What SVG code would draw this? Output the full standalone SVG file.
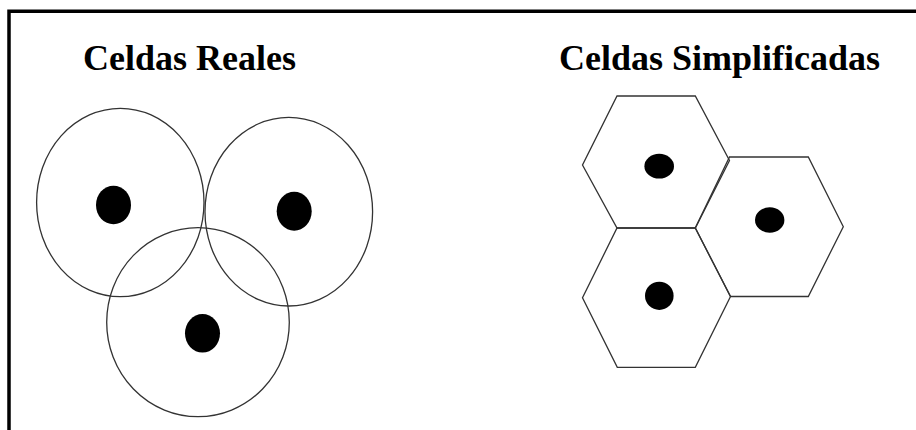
<svg xmlns="http://www.w3.org/2000/svg" width="916" height="430" viewBox="0 0 916 430">
  <style>
    .title { font-family: "Liberation Serif", "Times New Roman", serif; font-weight: bold; font-size: 36px; fill: #000; }
    .cell { fill: none; stroke: #333; stroke-width: 1.3; }
    .nucleus { fill: #000; }
    .frame { fill: none; stroke: #000; stroke-width: 3.5; }
  </style>
  <rect width="916" height="430" fill="#fff"/>
  <path class="frame" d="M 9 432 V 11.3 H 918"/>

  <g id="title-real">
    <text class="title" x="83" y="70">Celdas Reales</text>
  </g>
  <g id="title-simplified">
    <text class="title" x="559" y="70">Celdas Simplificadas</text>
  </g>

  <g id="real-cell-1">
    <ellipse class="cell" cx="120.3" cy="202.5" rx="83.7" ry="94.2"/>
    <ellipse class="nucleus" cx="113.5" cy="205" rx="17.5" ry="19.3"/>
  </g>
  <g id="real-cell-2">
    <ellipse class="cell" cx="288.8" cy="211.7" rx="83.8" ry="94.3"/>
    <ellipse class="nucleus" cx="294.2" cy="211.2" rx="17.5" ry="19.5"/>
  </g>
  <g id="real-cell-3">
    <ellipse class="cell" cx="198" cy="322.2" rx="91.3" ry="94.5"/>
    <ellipse class="nucleus" cx="202.5" cy="333.3" rx="17.5" ry="19.3"/>
  </g>

  <g id="hex-cell-1">
    <polygon class="cell" points="617,96 695.3,96 729.5,160.5 695.3,228 617,228 582.5,165"/>
    <ellipse class="nucleus" cx="659.2" cy="166.2" rx="14.8" ry="12.4"/>
  </g>
  <g id="hex-cell-2">
    <polygon class="cell" points="729.5,157 808.3,157 843.3,226.7 808.3,296.5 730.5,296.5 695.3,228"/>
    <ellipse class="nucleus" cx="769.7" cy="220" rx="14.7" ry="12.7"/>
  </g>
  <g id="hex-cell-3">
    <polygon class="cell" points="617,228 695.3,228 730.5,296.5 695.3,367.3 617.3,367.3 582.5,297.7"/>
    <ellipse class="nucleus" cx="659.3" cy="295.8" rx="14.3" ry="14.1"/>
  </g>
  <g id="connectors"/>
</svg>
